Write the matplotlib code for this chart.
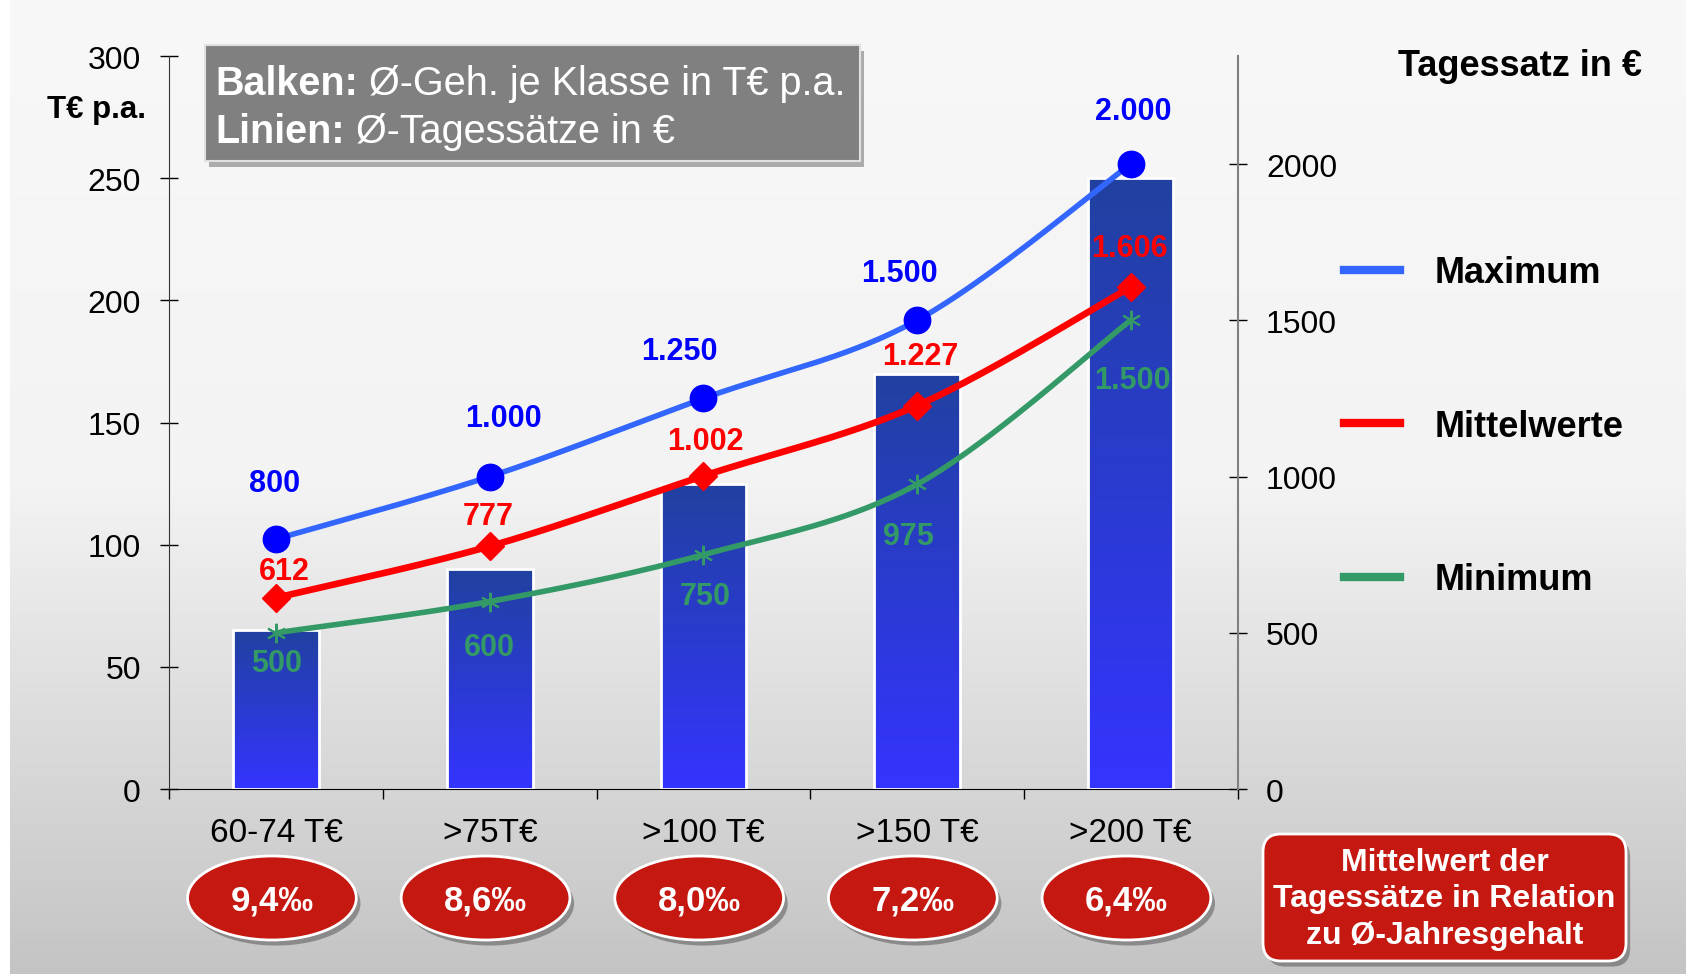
import numpy as np
import matplotlib
matplotlib.use("Agg")
import matplotlib.pyplot as plt
from matplotlib.patches import Ellipse, FancyBboxPatch, Rectangle
from matplotlib.lines import Line2D
from matplotlib.text import Annotation
from matplotlib.colors import LinearSegmentedColormap
from matplotlib.transforms import blended_transform_factory
import matplotlib.patheffects as pe

plt.rcParams['font.family'] = ['Liberation Sans', 'DejaVu Sans']

# data
categories = ["60-74 T€", ">75T€", ">100 T€", ">150 T€", ">200 T€"]
salary = [65, 90, 125, 170, 250]            # T€ p.a. (bars)
rate_max = [800, 1000, 1250, 1500, 2000]    # Tagessatz in €
rate_mean = [612, 777, 1002, 1227, 1606]
rate_min = [500, 600, 750, 975, 1500]
ratio = [9.4, 8.6, 8.0, 7.2, 6.4]           # Promille

# label offsets in points (as placed in the original slide)
off_max = [(-1.5, 40), (10, 42), (-17, 34), (-13, 34), (2, 38)]
off_mean = [(6, 19), (-1, 22), (1.5, 25), (2, 36), (-1, 28)]
off_min = [(0, -22), (0, -33), (1.5, -30), (-6, -37), (1.5, -43)]


def de(v):
    return f"{v:,}".replace(",", ".")


def smooth(x, y, n=40):
    # Catmull-Rom bezier, like Excel's smoothed lines
    p = np.column_stack([x, y]).astype(float)
    p = np.vstack([p[0], p, p[-1]])
    t = np.linspace(0, 1, n)[:, None]
    out = []
    for i in range(1, len(p) - 2):
        p0, p1, p2, p3 = p[i - 1], p[i], p[i + 1], p[i + 2]
        b1 = p1 + (p2 - p0) / 6
        b2 = p2 - (p3 - p1) / 6
        seg = (1 - t)**3 * p1 + 3 * (1 - t)**2 * t * b1 + 3 * (1 - t) * t**2 * b2 + t**3 * p2
        out.append(seg if i == 1 else seg[1:])
    out = np.vstack(out)
    return out[:, 0], out[:, 1]


fig = plt.figure(figsize=(16.92, 9.78), dpi=100)

# background gradient
bg = fig.add_axes([0, 0, 1, 1], zorder=-10)
bg.set_xlim(0, 1)
bg.set_ylim(0, 1)
bg.axis('off')
cm_bg = LinearSegmentedColormap.from_list("bg", ["#f8f8f8", "#f3f3f3", "#c4c4c4"])
bg.imshow(np.linspace(0, 1, 256)[:, None], cmap=cm_bg, aspect='auto',
          extent=[0.006, 0.996, 0.003, 1.0], origin='upper')

ax = fig.add_axes([0.1001, 0.1922, 0.6313, 0.7493])
ax.patch.set_alpha(0)
x = np.arange(len(categories))

# bars with vertical gradient
cm_bar = LinearSegmentedColormap.from_list("bar", ["#2141a0", "#3434ff"])
bars = ax.bar(x, salary, width=0.4, color='none', edgecolor='white', lw=2, zorder=3)
for b in bars:
    im = ax.imshow(np.linspace(0, 1, 256)[:, None], cmap=cm_bar, aspect='auto',
                   extent=[b.get_x(), b.get_x() + b.get_width(), 0, b.get_height()],
                   origin='upper', zorder=2)
    im.set_clip_path(b)

ax.set_xlim(-0.5, 4.5)
ax.set_ylim(0, 300)
ax.set_yticks(range(0, 301, 50))
ax.tick_params(axis='y', direction='inout', length=13, width=1, labelsize=23, pad=14)
ax.set_xticks(x)
ax.set_xticklabels(categories, fontsize=24)
ax.tick_params(axis='x', which='major', length=0, pad=20)
ax.set_xticks(np.arange(-0.5, 5, 1), minor=True)
ax.tick_params(axis='x', which='minor', length=7, width=1, direction='out')
for s in ['top', 'right']:
    ax.spines[s].set_visible(False)
ax.spines['left'].set_color('#333333')
ax.spines['bottom'].set_color('black')

ax2 = ax.twinx()
ax2.set_ylim(0, 2345)
ax2.set_yticks(range(0, 2001, 500))
ax2.tick_params(axis='y', direction='inout', length=13, width=1, labelsize=23, pad=14)
for s in ['top', 'left', 'bottom']:
    ax2.spines[s].set_visible(False)
ax2.spines['right'].set_color('#808080')
ax2.spines['right'].set_linewidth(1.5)

series = [
    (rate_max, '#3366ff', 4.0, dict(marker='o', color='#0000ff', ms=19), '#0000ff', off_max),
    (rate_mean, '#ff0000', 4.8, dict(marker='D', color='#ff0000', ms=14), '#ff0000', off_mean),
    (rate_min, '#339966', 4.0, dict(marker=(6, 2, 0), color='#339966', ms=14, mew=1.5), '#339966', off_min),
]
for vals, lc, lw, mk, tc, offs in series:
    sx, sy = smooth(x, vals)
    ax2.plot(sx, sy, color=lc, lw=lw, solid_capstyle='round', zorder=3)
    ax2.plot(x, vals, ls='none', zorder=4, **mk)
    for xi, v, o in zip(x, vals, offs):
        ax2.annotate(de(v), (xi, v), xytext=o, textcoords='offset points',
                     ha='center', va='center', color=tc, fontsize=22,
                     fontweight='bold', zorder=5)

# ratio ellipses under the categories
shadow = [pe.withSimplePatchShadow(offset=(3, -4), shadow_rgbFace='black', alpha=0.3)]
trans = blended_transform_factory(ax.transData, ax.transAxes)
for xi, r in zip(x, ratio):
    e = Ellipse((xi - 0.02, -0.1487), width=0.79, height=0.1146, transform=trans,
                facecolor='#c41811', edgecolor='white', lw=2, clip_on=False,
                path_effects=shadow, zorder=5)
    ax.add_patch(e)
    ax.text(xi - 0.02, -0.152, f"{r:.1f}".replace('.', ',') + "‰", transform=trans,
            ha='center', va='center', color='white', fontsize=25, fontweight='bold',
            zorder=6, clip_on=False)

# legend
handles = [Line2D([], [], color=c, lw=6) for c in ['#3366ff', '#ff0000', '#339966']]
fig.legend(handles, ['Maximum', 'Mittelwerte', 'Minimum'], loc='upper left',
           bbox_to_anchor=(0.7943, 0.7379), frameon=False,
           prop=dict(size=26, weight='bold'), handlelength=1.55,
           handletextpad=0.95, labelspacing=3.28, borderpad=0, borderaxespad=0)

fig.text(0.9704, 0.9315, "Tagessatz in €", ha='right', va='center',
         fontsize=26, fontweight='bold')
fig.text(0.0573, 0.8875, "T€ p.a.", ha='center', va='center',
         fontsize=22.5, fontweight='bold')

# info box top left
box = Rectangle((0.1212, 0.8344), 0.3871, 0.1186, transform=fig.transFigure,
                facecolor='#808080', edgecolor='#e0e0e0', lw=1.5,
                path_effects=shadow, zorder=6)
fig.patches.append(box)
for yy, bold, rest in [(0.9144, "Balken:", " Ø-Geh. je Klasse in T€ p.a."),
                       (0.8653, "Linien:", " Ø-Tagessätze in €")]:
    t = fig.text(0.1271, yy, bold, ha='left', va='center', color='white',
                 fontsize=28.5, fontweight='bold', zorder=7)
    a = Annotation(rest, xy=(1, 0.5), xycoords=t, ha='left', va='center',
                   color='white', fontsize=28.5, annotation_clip=False, zorder=7)
    fig.add_artist(a)

# red box bottom right
rbox = FancyBboxPatch((12.63, 0.16), 3.63, 1.27, boxstyle="round,pad=0,rounding_size=0.18",
                      transform=fig.dpi_scale_trans, facecolor='#c41811',
                      edgecolor='white', lw=2, path_effects=shadow, zorder=6)
fig.patches.append(rbox)
fig.text(14.445, 0.785, "Mittelwert der\nTagessätze in Relation\nzu Ø-Jahresgehalt",
         transform=fig.dpi_scale_trans, ha='center', va='center', color='white',
         fontsize=23, fontweight='bold', linespacing=1.3, zorder=7)

fig.savefig('out.png', dpi=100)
